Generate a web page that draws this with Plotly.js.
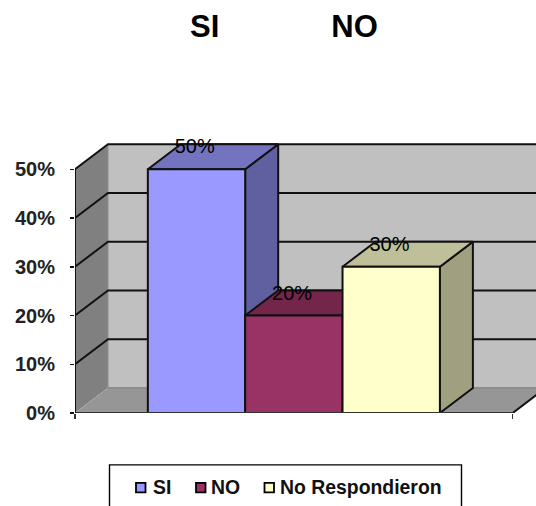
<!DOCTYPE html>
<html>
<head>
<meta charset="utf-8">
<script src="https://cdn.plot.ly/plotly-3.0.1.min.js"></script>
<style>html,body{margin:0;padding:0;background:#fff;overflow:hidden}</style>
</head>
<body>
<div id="chart" style="width:536px;height:506px"></div>
<script>
var categories = ["SI", "NO", "No Respondieron"];
var values = [50, 20, 30];
var valueLabels = ["50%", "20%", "30%"];
var tickVals = [0, 10, 20, 30, 40, 50];
var tickLabels = ["0%", "10%", "20%", "30%", "40%", "50%"];
var frontColors = ["#9999FF", "#993366", "#FFFFCC"];
var topColors = ["#7373BF", "#732649", "#BFBF99"];
var sideColors = ["#6060A0", "#602040", "#A0A080"];

// geometry of the 3-D look, in axis units
var barW = 0.2224, depthX = 0.0754, depthY = 5.14, xMax = 1.0532, yMax = 56;
var mL = 75, mT = 140.1, plotW = 461, plotH = 272.6;
function px(x) { return (x - mL) / plotW; }
function py(y) { return (mT + plotH - y) / plotH; }

var traces = [];
function poly(xs, ys, fill, lineColor, lineW) {
  traces.push({type: "scatter", mode: lineW ? "lines" : "none", x: xs, y: ys, fill: "toself", fillcolor: fill,
    line: {color: lineColor || fill, width: lineW || 0}, hoverinfo: "skip", showlegend: false});
}
function line(xs, ys, color, w, noClip) {
  traces.push({type: "scatter", mode: "lines", x: xs, y: ys, line: {color: color, width: w},
    hoverinfo: "skip", showlegend: false, cliponaxis: !noClip});
}
var topV = tickVals[tickVals.length - 1];
// walls and floor
poly([depthX, xMax + 0.1, xMax + 0.1, depthX, depthX], [depthY, depthY, topV + depthY, topV + depthY, depthY], "#C0C0C0");
poly([0, depthX, depthX, 0, 0], [0, depthY, topV + depthY, topV, 0], "#808080");
poly([0, 1, 1 + depthX, depthX, 0], [0, 0, depthY, depthY, 0], "#969696");
line([0, depthX], [0, depthY], "#a8a8a8", 1);
line([depthX, xMax + 0.1], [depthY, depthY], "#808080", 1.2);
line([depthX, depthX], [depthY, topV + depthY], "#909090", 1.2);
line([1, 1 + depthX], [0, depthY], "#111111", 2);
// gridlines
tickVals.slice(1).forEach(function (v) {
  line([0, depthX, xMax + 0.1], [v, v + depthY, v + depthY], "#111111", 2);
});
// bar tops and sides
var start = 0.5 - 1.5 * barW;
values.forEach(function (v, i) {
  var l = start + i * barW, r = l + barW;
  poly([r, r + depthX, r + depthX, r, r], [v, v + depthY, depthY, 0, v], sideColors[i], "#111111", 2);
  poly([l, r, r + depthX, l + depthX, l], [v, v, v + depthY, v + depthY, v], topColors[i], "#111111", 2);
});
// value labels
traces.push({type: "scatter", mode: "text", xaxis: "x2", yaxis: "y2", cliponaxis: false,
  x: values.map(function (v, i) { return start + (i + 0.5) * barW - 0.004; }),
  y: values.map(function (v) { return v + 4.3; }),
  text: valueLabels, textposition: "middle center",
  textfont: {family: "Liberation Sans, Arial, sans-serif", size: 20, color: "#000"},
  hoverinfo: "skip", showlegend: false});
// front faces
values.forEach(function (v, i) {
  traces.push({type: "bar", name: categories[i], x: [start + (i + 0.5) * barW], y: [v], width: [barW],
    xaxis: "x2", yaxis: "y2", cliponaxis: false, showlegend: false,
    marker: {color: frontColors[i], line: {color: "#111111", width: 2}}, hoverinfo: "skip"});
});
// axis lines
traces.push({type: "scatter", mode: "lines", x: [0, 1], y: [0, 0], xaxis: "x2", yaxis: "y2", cliponaxis: false,
  line: {color: "#333333", width: 1.8}, hoverinfo: "skip", showlegend: false});
traces.push({type: "scatter", mode: "lines", x: [0, 0], y: [0, topV], xaxis: "x2", yaxis: "y2", cliponaxis: false,
  line: {color: "#111111", width: 2}, hoverinfo: "skip", showlegend: false});

// legend
var legSwatchX = [136, 196, 264.5], legTextX = [151.5, 209.5, 279];
var shapes = [{type: "rect", xref: "paper", yref: "paper", x0: px(109.5), x1: px(461.5), y0: py(520), y1: py(464.5),
  line: {color: "#000", width: 1.4}, fillcolor: "#fff", layer: "above"}];
var annotations = [];
categories.forEach(function (c, i) {
  shapes.push({type: "rect", xref: "paper", yref: "paper", x0: px(legSwatchX[i]), x1: px(legSwatchX[i] + 9.5),
    y0: py(492), y1: py(482.5), fillcolor: frontColors[i], line: {color: "#000", width: 1.8}, layer: "above"});
  annotations.push({xref: "paper", yref: "paper", x: px(legTextX[i]), y: py(486.3), xanchor: "left", yanchor: "middle",
    text: c, showarrow: false, borderpad: 0,
    font: {family: "Liberation Sans, Arial, sans-serif", size: 19.4, color: "#111", weight: "bold"}});
});

var layout = {
  width: 536, height: 506, showlegend: false,
  margin: {l: mL, r: 0, t: mT, b: 506 - mT - plotH, pad: 0},
  paper_bgcolor: "#fff", plot_bgcolor: "#fff",
  barmode: "overlay",
  title: {text: "<b>SI" + "\u00a0".repeat(13) + "NO</b>", x: 284 / 536, xanchor: "center", xref: "container",
    y: 1 - 26 / 506, yanchor: "middle", yref: "container",
    font: {family: "Liberation Sans, Arial, sans-serif", size: 31, color: "#000"}},
  xaxis: {range: [0, xMax], showgrid: false, zeroline: false, showline: false, tickmode: "array", tickvals: [0, 1],
    ticktext: ["", ""], ticks: "outside", ticklen: 5, tickwidth: 1.5, tickcolor: "#333", fixedrange: true},
  yaxis: {range: [0, yMax], showgrid: false, zeroline: false, showline: false, tickmode: "array", tickvals: tickVals,
    ticktext: tickLabels, ticks: "outside", ticklen: 4, tickwidth: 1.5, tickcolor: "#111", fixedrange: true,
    ticklabelstandoff: 11,
    tickfont: {family: "Liberation Sans, Arial, sans-serif", size: 20, color: "#222", weight: "bold"}},
  xaxis2: {overlaying: "x", matches: "x", visible: false, range: [0, xMax]},
  yaxis2: {overlaying: "y", matches: "y", visible: false, range: [0, yMax]},
  shapes: shapes, annotations: annotations
};
Plotly.newPlot("chart", traces, layout, {displayModeBar: false, staticPlot: true});
</script>
</body>
</html>
